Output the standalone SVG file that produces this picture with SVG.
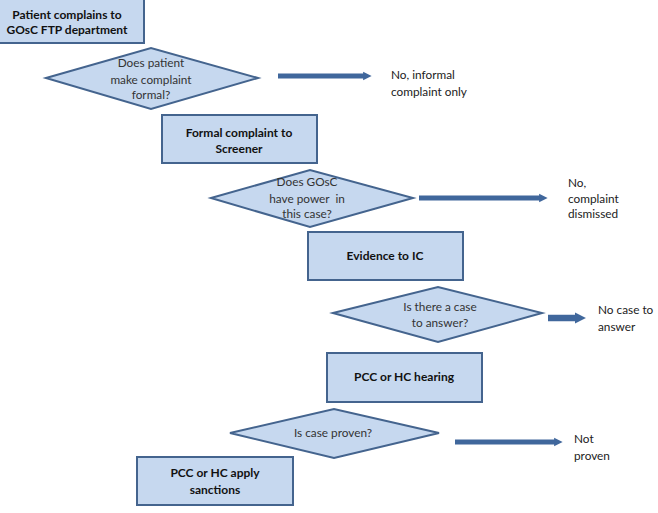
<svg xmlns="http://www.w3.org/2000/svg" width="658" height="513" viewBox="0 0 658 513">
<style>
.box{fill:#c6d8ef;stroke:#44648e;stroke-width:2}
.dia{fill:#c6d8ef;stroke:#44648e;stroke-width:2}
.bt{font-family:Lato,"Liberation Sans",sans-serif;font-weight:bold;font-size:12px;fill:#111;text-anchor:middle}
.dt{font-family:Lato,"Liberation Sans",sans-serif;font-size:11.8px;fill:#333;text-anchor:middle;white-space:pre}
.lt{font-family:Lato,"Liberation Sans",sans-serif;font-size:11.8px;fill:#222}
.arr{stroke:#40679c;fill:none}
</style>
<defs>
<marker id="ah" viewBox="0 0 10 10" refX="1" refY="5" markerWidth="1.7" markerHeight="2.2" markerUnits="strokeWidth" orient="auto">
<path d="M0,0 L10,5 L0,10 z" fill="#40679c"/>
</marker>
</defs>
<rect width="658" height="513" fill="#ffffff"/>
<g id="connectors">
<line class="arr" x1="278" y1="76" x2="364" y2="76" stroke-width="5" marker-end="url(#ah)"/>
<line class="arr" x1="419" y1="198" x2="540" y2="198" stroke-width="5" marker-end="url(#ah)"/>
<line class="arr" x1="548" y1="318" x2="576" y2="318" stroke-width="6.5" marker-end="url(#ah)"/>
<line class="arr" x1="455" y1="442" x2="555" y2="442" stroke-width="5" marker-end="url(#ah)"/>
</g>
<g id="n1">
<rect class="box" x="-2" y="-2" width="146" height="45"/>
<text class="bt" x="67" y="19">Patient complains to</text>
<text class="bt" x="67" y="34">GOsC FTP department</text>
</g>
<g id="d1">
<polygon class="dia" points="46,78 151,48 258,78 151,109"/>
<text class="dt" x="151" y="67">Does patient</text>
<text class="dt" x="151" y="84">make complaint</text>
<text class="dt" x="151" y="99">formal?</text>
</g>
<g id="l1">
<text class="lt" x="391" y="79">No, informal</text>
<text class="lt" x="391" y="96">complaint only</text>
</g>
<g id="n2">
<rect class="box" x="162" y="115" width="155" height="48"/>
<text class="bt" x="239" y="137">Formal complaint to</text>
<text class="bt" x="239" y="153">Screener</text>
</g>
<g id="d2">
<polygon class="dia" points="211,198 310,170 413,198 310,227"/>
<text class="dt" x="307" y="186">Does GOsC</text>
<text class="dt" x="307" y="203">have power  in</text>
<text class="dt" x="307" y="218">this case?</text>
</g>
<g id="l2">
<text class="lt" x="568" y="187">No,</text>
<text class="lt" x="568" y="203">complaint</text>
<text class="lt" x="568" y="218">dismissed</text>
</g>
<g id="n3">
<rect class="box" x="308" y="232" width="155" height="48"/>
<text class="bt" x="385" y="260">Evidence to IC</text>
</g>
<g id="d3">
<polygon class="dia" points="333,313 438,287 542,313 438,342"/>
<text class="dt" x="440" y="311">Is there a case</text>
<text class="dt" x="440" y="327">to answer?</text>
</g>
<g id="l3">
<text class="lt" x="598" y="314">No case to</text>
<text class="lt" x="598" y="331">answer</text>
</g>
<g id="n4">
<rect class="box" x="327" y="353" width="155" height="49"/>
<text class="bt" x="404" y="381">PCC or HC hearing</text>
</g>
<g id="d4">
<polygon class="dia" points="230,433 334,409 439,433 334,458"/>
<text class="dt" x="333" y="437">Is case proven?</text>
</g>
<g id="l4">
<text class="lt" x="574" y="443">Not</text>
<text class="lt" x="574" y="460">proven</text>
</g>
<g id="n5">
<rect class="box" x="137" y="457" width="156" height="48"/>
<text class="bt" x="215" y="477">PCC or HC apply</text>
<text class="bt" x="215" y="494">sanctions</text>
</g>
</svg>
